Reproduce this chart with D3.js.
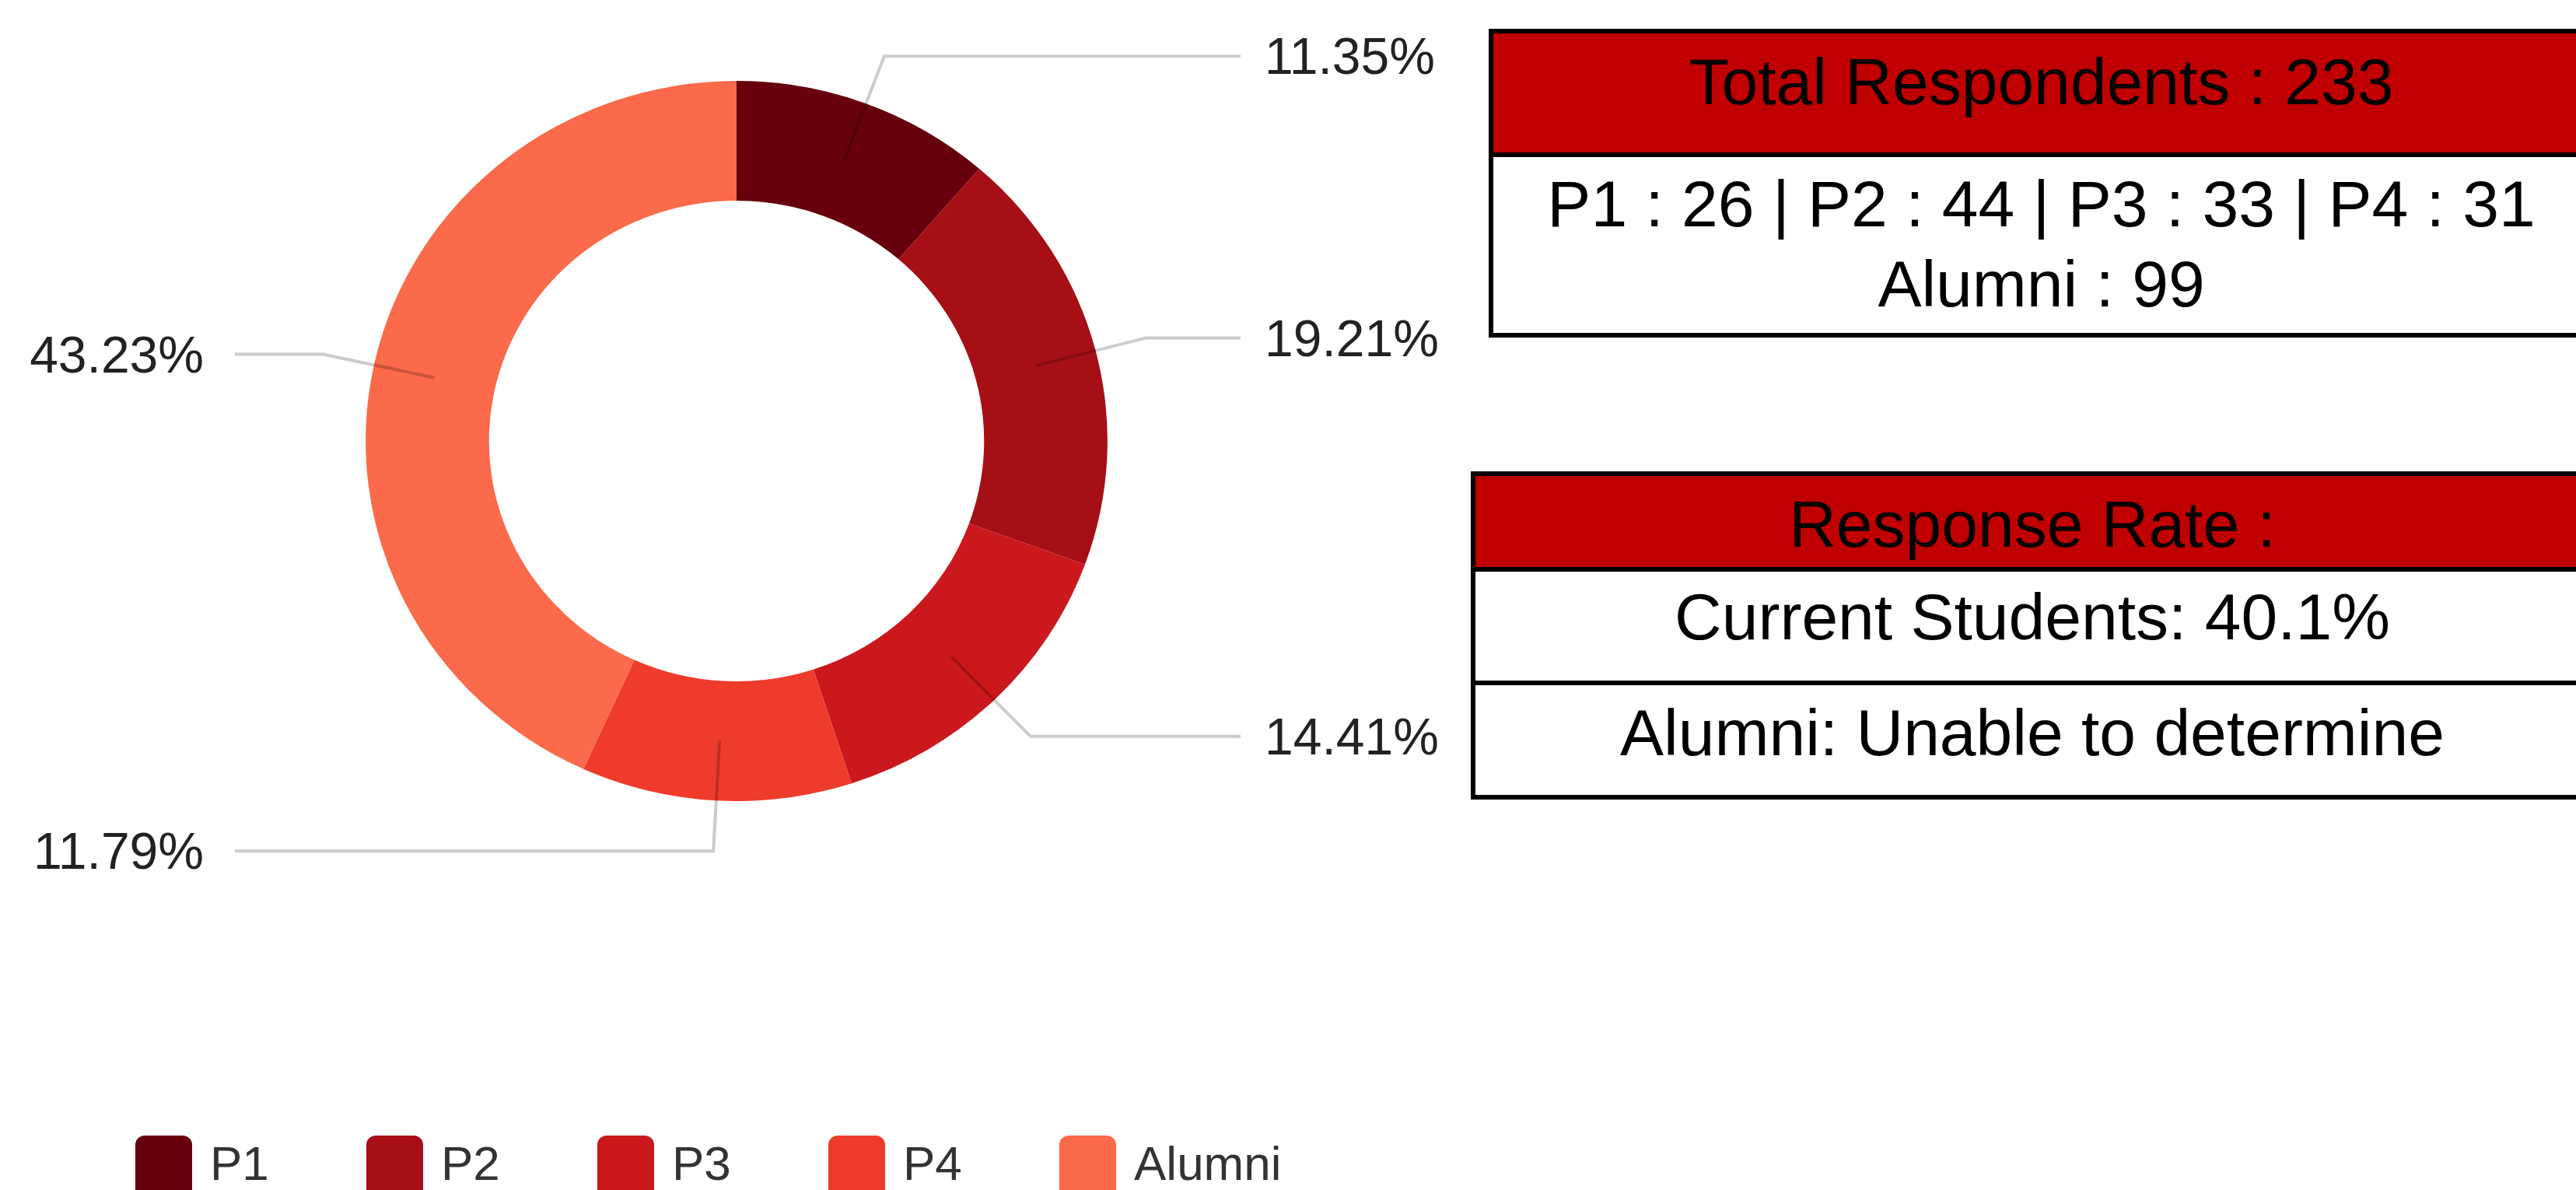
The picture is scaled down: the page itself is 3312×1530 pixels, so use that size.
<!DOCTYPE html>
<html>
<head>
<meta charset="utf-8">
<script src="https://cdn.jsdelivr.net/npm/d3@7"></script>
<style>
  html, body { margin: 0; padding: 0; background: #fff; }
</style>
</head>
<body>
<div id="chart"></div>
<script>
// chart data
const groups = ["P1", "P2", "P3", "P4", "Alumni"];
const counts = [26, 44, 33, 27, 99];
const colors = ["#67000d", "#a50f15", "#cb181d", "#ef3b2c", "#fb6a4a"];

// summary tables
const totalHeader = "Total Respondents : 233";
const totalLines = ["P1 : 26 | P2 : 44 | P3 : 33 | P4 : 31", "Alumni : 99"];
const rateHeader = "Response Rate :";
const rateRows = ["Current Students: 40.1%", "Alumni: Unable to determine"];

const width = 3312, height = 1530;

const svg = d3.select("#chart").append("svg")
  .attr("width", width)
  .attr("height", height)
  .style("font-family", "'Liberation Sans', Arial, sans-serif");

const cx = 947, cy = 567, sx = 1.03;
const outer = 463, inner = 309, elbowR = 528;

const color = d3.scaleOrdinal().domain(groups).range(colors);
const total = d3.sum(counts);

const pie = d3.pie().sort(null).value(d => d.value);
const arcs = pie(groups.map((g, i) => ({ name: g, value: counts[i] })));
const arc = d3.arc().innerRadius(inner).outerRadius(outer);

const donut = svg.append("g")
  .attr("transform", `translate(${cx},${cy}) scale(${sx},1)`);

donut.selectAll("path")
  .data(arcs)
  .join("path")
    .attr("d", arc)
    .attr("fill", d => color(d.data.name));

// leader lines + percent labels
const mid = d => (d.startAngle + d.endAngle) / 2;
const pt = (a, r) => [cx + Math.sin(a) * r * sx, cy - Math.cos(a) * r];

const labels = svg.append("g");

arcs.forEach(d => {
  const a = mid(d);
  const right = Math.sin(a) > 0;
  const p0 = pt(a, (inner + outer) / 2);
  const p1 = pt(a, elbowR);
  const p2 = [right ? 1595 : 302, p1[1]];

  labels.append("polyline")
    .attr("points", [p0, p1, p2].map(p => p.join(",")).join(" "))
    .attr("fill", "none")
    .attr("stroke", "#000")
    .attr("stroke-opacity", 0.2)
    .attr("stroke-width", 4);

  labels.append("text")
    .attr("x", right ? 1626 : 262)
    .attr("y", p1[1])
    .attr("dy", "0.35em")
    .attr("text-anchor", right ? "start" : "end")
    .attr("font-size", 66)
    .attr("fill", "#222")
    .text((d.value / total * 100).toFixed(2) + "%");
});

// legend
const lx = d3.scaleBand().domain(groups).range([174, 174 + groups.length * 297]);

const legend = svg.append("g").selectAll("g")
  .data(groups)
  .join("g")
    .attr("transform", d => `translate(${lx(d)},0)`);

legend.append("rect")
  .attr("y", 1460)
  .attr("width", 73)
  .attr("height", 110)
  .attr("rx", 12)
  .attr("fill", d => color(d));

legend.append("text")
  .attr("x", 96)
  .attr("y", 1517)
  .attr("font-size", 62)
  .attr("fill", "#333")
  .text(d => d);

// tables
function table(x0, x1, rows, lines) {
  const g = svg.append("g");
  const [top, headBottom] = rows;
  g.append("rect")
    .attr("x", x0).attr("y", top)
    .attr("width", x1 - x0).attr("height", headBottom - top)
    .attr("fill", "#c00000");
  g.append("rect")
    .attr("x", x0).attr("y", top)
    .attr("width", x1 - x0).attr("height", rows[rows.length - 1] - top)
    .attr("fill", "none")
    .attr("stroke", "#000")
    .attr("stroke-width", 6);
  rows.slice(1, -1).forEach(y => {
    g.append("line")
      .attr("x1", x0).attr("x2", x1)
      .attr("y1", y).attr("y2", y)
      .attr("stroke", "#000")
      .attr("stroke-width", 6);
  });
  g.selectAll("text")
    .data(lines)
    .join("text")
      .attr("x", (x0 + x1) / 2)
      .attr("y", d => d.y)
      .attr("text-anchor", "middle")
      .attr("font-size", 84)
      .attr("fill", "#000")
      .text(d => d.t);
}

table(1917, 3332, [40, 199, 431], [
  { t: totalHeader, y: 134 },
  { t: totalLines[0], y: 291 },
  { t: totalLines[1], y: 394 }
]);

table(1894, 3332, [609, 732, 878, 1025], [
  { t: rateHeader, y: 703 },
  { t: rateRows[0], y: 822 },
  { t: rateRows[1], y: 971 }
]);
</script>
</body>
</html>
